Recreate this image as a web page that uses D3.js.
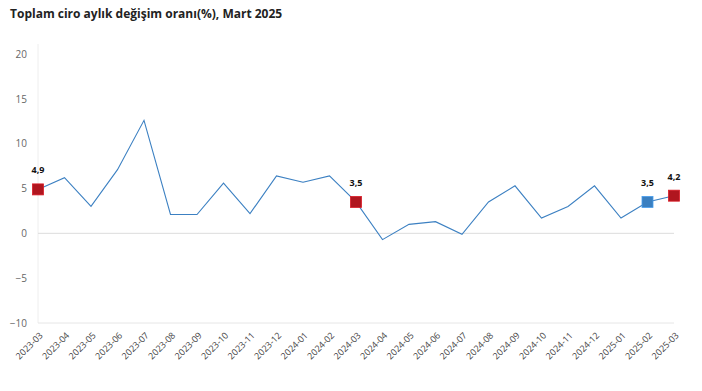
<!DOCTYPE html>
<html><head><meta charset="utf-8">
<script src="https://cdn.jsdelivr.net/npm/d3@7"></script>
<style>body{margin:0;background:#fff}svg{display:block}</style>
</head><body>
<svg id="c" width="702" height="391"></svg>
<script>
const months = ["2023-03","2023-04","2023-05","2023-06","2023-07","2023-08","2023-09","2023-10","2023-11","2023-12","2024-01","2024-02","2024-03","2024-04","2024-05","2024-06","2024-07","2024-08","2024-09","2024-10","2024-11","2024-12","2025-01","2025-02","2025-03"];
const values = [4.9,6.2,3.0,7.1,12.6,2.1,2.1,5.6,2.2,6.4,5.7,6.4,3.5,-0.7,1.0,1.3,-0.1,3.5,5.3,1.7,3.0,5.3,1.7,3.5,4.2];
const yTicks = [-10,-5,0,5,10,15,20];
const highlights = [
  {month:"2023-03", label:"4,9", color:"#b0161f"},
  {month:"2024-03", label:"3,5", color:"#b0161f"},
  {month:"2025-02", label:"3,5", color:"#3a7fc0"},
  {month:"2025-03", label:"4,2", color:"#b0161f"}
];

const svg = d3.select("#c");
const font = "'Open Sans', 'Noto Sans', sans-serif";
const L = 38, R = 674, T = 54, B = 323;
const x = d3.scalePoint().domain(months).range([L, R]);
const y = d3.scaleLinear().domain([-10, 20]).range([B, T]);

svg.append("text").attr("x", 10).attr("y", 18)
  .attr("font-family", font).attr("font-weight", 700).attr("font-size", 12)
  .attr("fill", "#222").text("Toplam ciro aylık değişim oranı(%), Mart 2025");

// axes lines
svg.append("line").attr("x1", L).attr("x2", L).attr("y1", T - 10).attr("y2", B)
  .attr("stroke", "#eeeeee").attr("stroke-width", 1);
svg.append("line").attr("x1", L).attr("x2", R).attr("y1", y(0)).attr("y2", y(0))
  .attr("stroke", "#dddddd").attr("stroke-width", 1);
svg.append("line").attr("x1", L).attr("x2", R).attr("y1", B).attr("y2", B)
  .attr("stroke", "#e6e6e6").attr("stroke-width", 1);

// y axis
const ya = svg.append("g").attr("transform", `translate(${L},0)`)
  .call(d3.axisLeft(y).tickValues(yTicks).tickSize(0).tickPadding(11));
ya.select(".domain").remove();
ya.selectAll("text").attr("font-family", font).attr("font-size", 10).attr("fill", "#666");

// x axis
const xa = svg.append("g").attr("transform", `translate(0,${B})`)
  .call(d3.axisBottom(x).tickSize(0));
xa.select(".domain").remove();
xa.selectAll("text").attr("font-family", font).attr("font-size", 9).attr("fill", "#444")
  .attr("text-anchor", "end").attr("dy", null).attr("y", 0)
  .attr("transform", "translate(5,13) rotate(-45)");

// line
const data = months.map((m, i) => ({m, v: values[i]}));
svg.append("path").datum(data)
  .attr("fill", "none").attr("stroke", "#3c80c2").attr("stroke-width", 1.1)
  .attr("d", d3.line().x(d => x(d.m)).y(d => y(d.v)));

// highlights
const hv = highlights.map(h => ({...h, v: values[months.indexOf(h.month)]}));
const s = 11;
svg.selectAll("rect.h").data(hv).join("rect").attr("class", "h")
  .attr("x", d => x(d.month) - s/2).attr("y", d => y(d.v) - s/2)
  .attr("width", s).attr("height", s)
  .attr("fill", d => d.color)
  .attr("stroke", d => d3.color(d.color).brighter(0.6)).attr("stroke-width", 0.8);
svg.selectAll("text.h").data(hv).join("text").attr("class", "h")
  .attr("x", d => x(d.month)).attr("y", d => y(d.v) - 16)
  .attr("text-anchor", "middle").attr("font-family", font).attr("font-weight", 700)
  .attr("font-size", 9).attr("fill", "#111").text(d => d.label);
</script>
</body></html>
